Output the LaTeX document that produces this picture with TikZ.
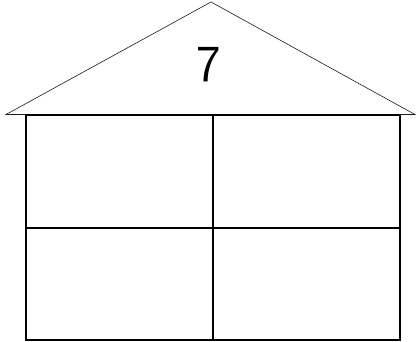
\documentclass[tikz,border=0pt]{standalone}
\usepackage{tikz}
\definecolor{roofline}{HTML}{1A1A1A}
\definecolor{wallline}{HTML}{000000}
\newcommand{\housedigit}{\fontsize{52}{60}\selectfont\sffamily}

\begin{document}
\begin{tikzpicture}[x=1pt,y=1pt,font=\housedigit]
\useasboundingbox (0,0) rectangle (416,342);
\coordinate (apex) at (211,340);
\coordinate (eaveL) at (6,227.5);
\coordinate (eaveR) at (415,227.5);
\draw[line width=0.6pt,color=roofline] (eaveL) -- (apex) -- (eaveR) -- cycle;
\node[inner sep=0pt] (sum) at (209,277) {7};
\node[draw=wallline,line width=2pt,minimum width=187pt,minimum height=112.5pt,inner sep=0pt,anchor=north west] (c11) at (25,227.5) {};
\node[draw=wallline,line width=2pt,minimum width=187pt,minimum height=112.5pt,inner sep=0pt,anchor=north west] (c12) at (212,227.5) {};
\node[draw=wallline,line width=2pt,minimum width=187pt,minimum height=112.5pt,inner sep=0pt,anchor=north west] (c21) at (25,115) {};
\node[draw=wallline,line width=2pt,minimum width=187pt,minimum height=112.5pt,inner sep=0pt,anchor=north west] (c22) at (212,115) {};
\end{tikzpicture}
\end{document}
